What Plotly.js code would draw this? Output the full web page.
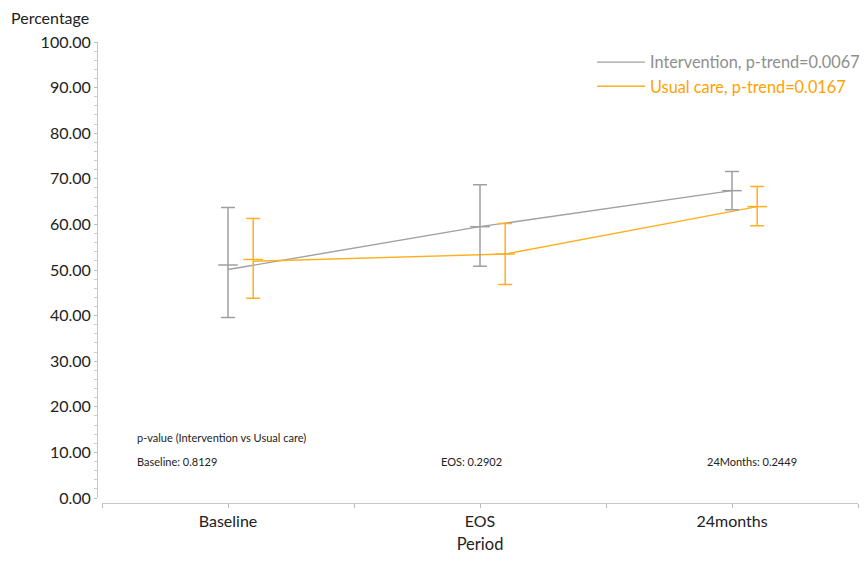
<!DOCTYPE html>
<html>
<head>
<meta charset="utf-8">
<script src="https://cdn.plot.ly/plotly-3.0.1.min.js"></script>
<style>html,body{margin:0;padding:0;background:#fff;}#chart{width:867px;height:561px;}</style>
</head>
<body>
<div id="chart"></div>
<script>
// ---- data ----
const periods = ['Baseline', 'EOS', '24months'];
const periodPos = [0, 1, 2];
const interventionMean = [51.1, 59.5, 67.4];
const interventionLow  = [39.6, 50.8, 63.2];
const interventionHigh = [63.7, 68.7, 71.6];
const interventionLine = [50.1, 59.5, 67.4];
const usualMean = [52.3, 53.5, 63.9];
const usualLow  = [43.8, 46.8, 59.7];
const usualHigh = [61.3, 60.2, 68.3];
const usualLine = [51.9, 53.5, 63.9];
const pLabels = ['Baseline', 'EOS', '24Months'];
const pValues = ['0.8129', '0.2902', '0.2449'];
const yTicks = [0, 10, 20, 30, 40, 50, 60, 70, 80, 90, 100];

// ---- styling ----
const GRAY = '#a0a0a0';
const ORANGE = '#ffb020';
const FONT = 'Lato, "Open Sans", sans-serif';
const offset = 0.1;
const usualPos = periodPos.map(p => p + offset);

function errTrace(xs, mean, low, high, color) {
  return {
    x: xs, y: mean, type: 'scatter', mode: 'markers', showlegend: false, hoverinfo: 'skip',
    marker: {symbol: 'line-ew', size: 14, color: color, line: {color: color, width: 1.5}},
    error_y: {type: 'data', symmetric: false,
      array: high.map((h, i) => h - mean[i]),
      arrayminus: low.map((l, i) => mean[i] - l),
      color: color, thickness: 1.5, width: 7}
  };
}

const traces = [
  {x: periodPos, y: interventionLine, type: 'scatter', mode: 'lines',
   name: '<span style="color:#8f8f8f">Intervention, p-trend=0.0067</span>',
   line: {color: GRAY, width: 1.4}},
  {x: usualPos, y: usualLine, type: 'scatter', mode: 'lines',
   name: '<span style="color:#ffa200">Usual care, p-trend=0.0167</span>',
   line: {color: ORANGE, width: 1.4}},
  errTrace(periodPos, interventionMean, interventionLow, interventionHigh, GRAY),
  errTrace(usualPos, usualMean, usualLow, usualHigh, ORANGE)
];

const annotations = [
  {text: 'Percentage', xref: 'paper', yref: 'paper', x: -0.115, y: 1.054,
   xanchor: 'left', yanchor: 'middle', showarrow: false, font: {family: FONT, size: 16, color: '#222'}},
  {text: 'p-value (Intervention vs Usual care)', xref: 'x', yref: 'y', x: -0.369, y: 13.35,
   xanchor: 'left', yanchor: 'middle', showarrow: false, font: {family: FONT, size: 11, color: '#222'}}
];
const pX = [-0.369, 0.838, 1.893];
pLabels.forEach((lab, i) => {
  annotations.push({text: lab + ': ' + pValues[i], xref: 'x', yref: 'y', x: pX[i], y: 8.1,
    xanchor: 'left', yanchor: 'middle', showarrow: false, font: {family: FONT, size: 11, color: '#222'}});
});

const layout = {
  width: 867, height: 561,
  margin: {l: 97, r: 9, t: 42, b: 58, pad: 0, autoexpand: false},
  paper_bgcolor: '#fff', plot_bgcolor: '#fff',
  font: {family: FONT, size: 16, color: '#222'},
  showlegend: true,
  legend: {x: 0.6505, y: 0.9935, xanchor: 'left', yanchor: 'top', bgcolor: 'rgba(0,0,0,0)',
           font: {family: FONT, size: 16.3}, itemwidth: 48, tracegroupgap: 0},
  xaxis: {
    domain: [5 / 761, 1], range: [-0.5, 2.5], anchor: 'free', position: 0,
    tickmode: 'array', tickvals: periodPos, ticktext: periods,
    ticks: 'outside', ticklen: 4, tickcolor: '#bbb', tickwidth: 1,
    minor: {tickvals: [-0.5, 0.5, 1.5, 2.5], ticks: 'outside', ticklen: 4, tickcolor: '#bbb'},
    showline: true, linecolor: '#c8c8c8', linewidth: 1,
    showgrid: false, zeroline: false, automargin: false,
    tickfont: {family: FONT, size: 16, color: '#222'},
    title: {text: 'Period', font: {family: FONT, size: 16.5, color: '#222'}, standoff: 9}
  },
  yaxis: {
    domain: [5 / 461, 1], range: [0, 100], anchor: 'free', position: 0,
    tickmode: 'array', tickvals: yTicks, tickformat: '.2f',
    ticks: 'outside', ticklen: 3, tickcolor: '#bbb', tickwidth: 1,
    minor: {dtick: 2, ticks: 'outside', ticklen: 3, tickcolor: '#ccc'},
    showline: true, linecolor: '#c8c8c8', linewidth: 1,
    showgrid: false, zeroline: false, automargin: false,
    tickfont: {family: FONT, size: 16, color: '#222'}
  },
  annotations: annotations
};

Plotly.newPlot('chart', traces, layout, {displayModeBar: false, staticPlot: true});
</script>
</body>
</html>
